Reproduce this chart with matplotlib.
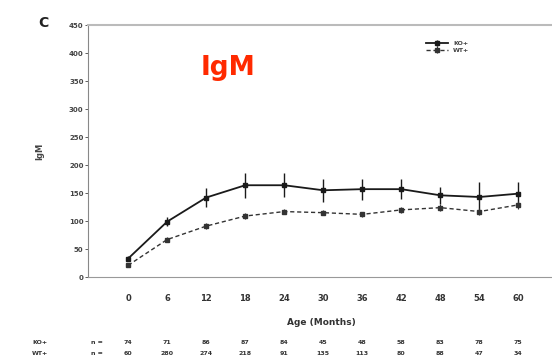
import matplotlib.pyplot as plt

ages = [0, 6, 12, 18, 24, 30, 36, 42, 48, 54, 60]

# upper curve (solid) and lower curve (dashed)
igm_upper = [33, 99, 142, 164, 164, 155, 157, 157, 146, 143, 149]
err_upper = [5, 8, 17, 22, 21, 21, 19, 18, 15, 27, 21]
igm_lower = [21, 67, 91, 109, 117, 115, 112, 120, 124, 117, 129]
err_lower = [3, 4, 5, 5, 5, 5, 5, 5, 6, 6, 7]

series_names = ["KO+", "WT+"]
n_upper = [74, 71, 86, 87, 84, 45, 48, 58, 83, 78, 75]
n_lower = [60, 280, 274, 218, 91, 135, 113, 80, 88, 47, 34]

fig = plt.figure(figsize=(5.52, 3.58), dpi=100)
ax = fig.add_axes([0.159, 0.226, 0.845, 0.704])

ax.errorbar(ages, igm_upper, yerr=err_upper, color="#1a1a1a", lw=1.3,
            marker="s", ms=3.5, capsize=0, elinewidth=1.0, label=series_names[0])
ax.errorbar(ages, igm_lower, yerr=err_lower, color="#333333", lw=1.0, ls=(0, (3, 2)),
            marker="s", ms=3, capsize=0, elinewidth=0.8, label=series_names[1])

ax.set_xlim(-6.2, 65.5)
ax.set_ylim(0, 450)
ax.set_yticks(range(0, 451, 50))
ax.set_xticks(ages)
ax.tick_params(axis="y", labelsize=5, length=2, width=0.6, colors="#444444", pad=1)
ax.tick_params(axis="x", labelsize=6, length=0, colors="#333333", pad=12)
for lab in ax.get_yticklabels() + ax.get_xticklabels():
    lab.set_fontweight("bold")

ax.spines["right"].set_visible(False)
ax.spines["left"].set_color("#888888")
ax.spines["top"].set_color("#bbbbbb")
ax.spines["top"].set_linewidth(1.5)
ax.spines["bottom"].set_color("#999999")
ax.spines["bottom"].set_linestyle((0, (2, 1)))

ax.set_ylabel("IgM", fontsize=6, fontweight="bold", color="#444444", labelpad=18)
ax.set_xlabel("Age (Months)", fontsize=6.5, fontweight="bold", color="#333333", labelpad=11)

leg = ax.legend(loc="upper right", bbox_to_anchor=(0.83, 0.96), fontsize=4.5,
                frameon=False, handlelength=3.5, labelspacing=0.2, markerscale=0.8)
for t in leg.get_texts():
    t.set_color("#444444")
    t.set_fontweight("bold")

fig.text(0.07, 0.925, "C", fontsize=10, fontweight="bold", color="#222222")
ax.text(0.30, 0.83, "IgM", transform=ax.transAxes, fontsize=19, fontweight="bold",
        color="#ff2a00", ha="center", va="center")

# numbers per group below the axis
txt = dict(fontsize=4.5, fontweight="bold", color="#333333", ha="center", va="center")
for row_y, name, counts in [(-0.258, series_names[0], n_upper), (-0.302, series_names[1], n_lower)]:
    ax.text(-0.103, row_y, name, transform=ax.transAxes, **txt)
    ax.annotate("n =", xy=(-4.8, row_y), xycoords=("data", "axes fraction"),
                annotation_clip=False, **txt)
    for a, c in zip(ages, counts):
        ax.annotate(str(c), xy=(a, row_y), xycoords=("data", "axes fraction"),
                    annotation_clip=False, **txt)

fig.savefig("out.png", dpi=100)
